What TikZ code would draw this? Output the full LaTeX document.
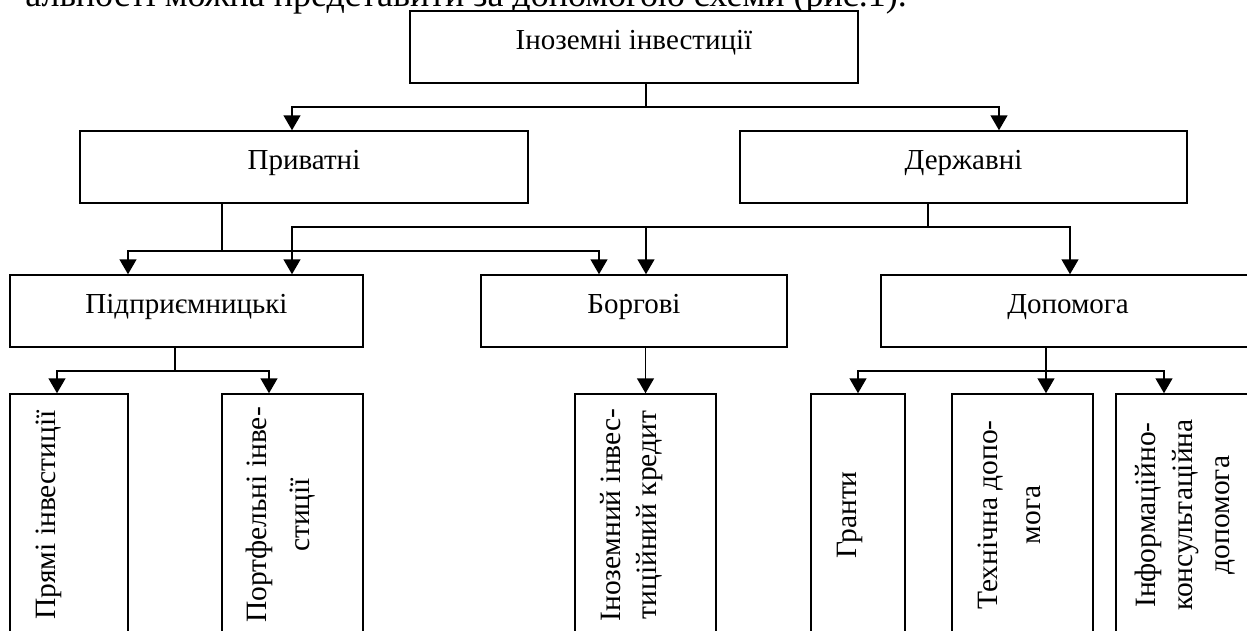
\documentclass[tikz,border=0pt]{standalone}
\usepackage{fontspec}
\setmainfont{Liberation Serif}
\usetikzlibrary{arrows.meta,positioning}

\begin{document}
\begin{tikzpicture}[
    x=1pt, y=-1pt,
    box/.style={rectangle, draw, line width=1.5pt, inner sep=0pt, minimum height=72pt, text height=38pt, text depth=34pt, font=\fontsize{29}{33}\selectfont},
    sidebox/.style={rectangle, draw, line width=1.5pt, inner sep=0pt, rotate=90, minimum width=242pt, text height=45pt, align=center, font=\fontsize{29.5}{43}\selectfont},
    arrow/.style={-{Triangle[length=15pt,width=17pt]}, line width=1.5pt},
    link/.style={line width=1.5pt}
]
    \useasboundingbox (0,0) rectangle (1247,630);
    \clip (0,0) rectangle (1247,630);

    % Text line above the scheme
    \node[anchor=base east, inner sep=0pt, font=\fontsize{36}{40}\selectfont] (intro) at (907,6) {альності можна представити за допомогою схеми (рис.1).};

    % Top level
    \node[box, fill=white, minimum width=448pt] (inv) at (634,47) {Іноземні інвестиції};

    % Second level
    \node[box, minimum width=448pt] (priv) at (304,167) {Приватні};
    \node[box, minimum width=447pt] (derzh) at (963.5,167) {Державні};

    % Third level
    \node[box, minimum width=353pt] (pidpr) at (186.5,311) {Підприємницькі};
    \node[box, minimum width=306pt] (borg) at (634,311) {Боргові};
    \node[box, minimum width=374pt] (dopom) at (1068,311) {Допомога};

    % Bottom level (rotated, so .east is the top side)
    \node[sidebox, minimum height=118pt, text depth=73pt] (pryami) at (69,515) {Прямі інвестиції};
    \node[sidebox, minimum height=141pt, text height=87pt, text depth=54pt] (portf) at (292.5,515) {Портфельні інве-\\стиції};
    \node[sidebox, minimum height=141pt, text height=81pt, text depth=60pt, font=\fontsize{29.5}{36}\selectfont] (kredyt) at (645.5,515) {Іноземний інвес-\\тиційний кредит};
    \node[sidebox, minimum height=94pt, text depth=49pt] (granty) at (858,515) {Гранти};
    \node[sidebox, minimum height=141pt, text height=88pt, text depth=53pt] (tekhn) at (1022.5,515) {Технічна допо-\\мога};
    \node[sidebox, minimum height=158pt, text height=113pt, text depth=45pt, font=\fontsize{29.5}{37}\selectfont] (inform) at (1195,515) {Інформаційно-\\консультаційна\\допомога};

    % Junctions
    \coordinate (j1) at (646,107);
    \coordinate (j2) at (222,251);
    \coordinate (j3) at (928,227);
    \coordinate (j4) at (175,371);
    \coordinate (j5) at (1046,371);

    % Arrows
    \draw[link] (inv.south -| j1) -- (j1);
    \draw[arrow] (j1) -| ([xshift=-12pt]priv.north);
    \draw[arrow] (j1) -| ([xshift=35.5pt]derzh.north);

    \draw[link] (priv.south -| j2) -- (j2);
    \draw[arrow] (j2) -| ([xshift=-58.5pt]pidpr.north);
    \draw[arrow] (j2) -| ([xshift=-35pt]borg.north);

    \draw[link] (derzh.south -| j3) -- (j3);
    \draw[arrow] (j3) -| ([xshift=105.5pt]pidpr.north);
    \draw[arrow] (j3) -| ([xshift=12pt]borg.north);
    \draw[arrow] (j3) -| ([xshift=2pt]dopom.north);

    \draw[link] (pidpr.south -| j4) -- (j4);
    \draw[arrow] (j4) -| ([xshift=-12pt]pryami.east);
    \draw[arrow] (j4) -| ([xshift=-23.5pt]portf.east);

    \draw[arrow] (borg.south -| kredyt.east) -- (kredyt.east);

    \draw[link] (dopom.south -| j5) -- (j5);
    \draw[arrow] (j5) -| (granty.east);
    \draw[arrow] (j5) -- (tekhn.east -| j5);
    \draw[arrow] (j5) -| ([xshift=-31pt]inform.east);
\end{tikzpicture}
\end{document}
